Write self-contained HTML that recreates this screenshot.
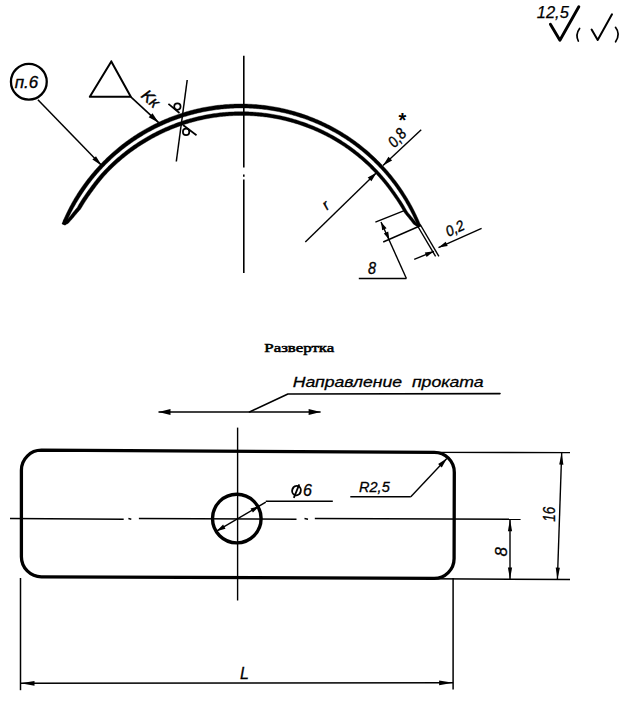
<!DOCTYPE html>
<html><head><meta charset="utf-8"><style>
html,body{margin:0;padding:0;background:#fff;}
svg{display:block;}
</style></head><body>
<svg width="633" height="712" viewBox="0 0 633 712" stroke="#000" fill="none">
<text x="552.8" y="18.0" font-family="Liberation Sans" font-style="italic" font-weight="normal" font-size="16.5" text-anchor="middle" fill="#000" stroke="#000" stroke-width="0.25" textLength="32" lengthAdjust="spacingAndGlyphs" >12,5</text>
<path d="M550.4,24.2 L559.9,40.3 L578.8,6.8" fill="none" stroke-width="2.9" stroke-linejoin="round" stroke-linecap="round" />
<path d="M579.6,28.5 Q575.2,34.5 578.3,41" fill="none" stroke-width="1.7" stroke-linecap="round"/>
<path d="M591.6,29.5 L597.7,40.0 L612.0,14.3" fill="none" stroke-width="2.0" stroke-linejoin="round" stroke-linecap="round" />
<path d="M615.5,27.3 Q620.8,34 615.6,41.8" fill="none" stroke-width="1.7" stroke-linecap="round"/>
<line x1="243.8" y1="55.8" x2="243.8" y2="167.4" stroke-width="1.6"/>
<line x1="243.8" y1="174.5" x2="243.8" y2="176.8" stroke-width="1.6"/>
<line x1="243.8" y1="179.6" x2="243.8" y2="273.0" stroke-width="1.6"/>
<path d="M62.00,223.75 L62.58,222.33 L63.18,220.92 L63.78,219.52 L64.40,218.12 L65.02,216.72 L65.66,215.33 L66.31,213.95 L66.97,212.57 L67.64,211.19 L68.32,209.82 L69.01,208.45 L69.71,207.09 L70.43,205.74 L71.15,204.39 L71.88,203.05 L72.63,201.71 L73.39,200.38 L74.17,199.06 L74.95,197.75 L75.75,196.44 L76.56,195.14 L77.37,193.85 L78.20,192.56 L79.04,191.28 L79.89,190.00 L80.74,188.73 L81.61,187.47 L82.49,186.22 L83.38,184.97 L84.27,183.73 L85.18,182.50 L86.10,181.27 L87.02,180.05 L87.96,178.84 L88.90,177.64 L89.86,176.44 L90.82,175.25 L91.80,174.07 L92.78,172.89 L93.77,171.73 L94.77,170.57 L95.78,169.42 L96.80,168.28 L97.83,167.14 L98.87,166.02 L99.92,164.90 L100.97,163.79 L102.03,162.69 L103.11,161.59 L104.19,160.51 L105.28,159.43 L106.38,158.37 L107.48,157.31 L108.60,156.26 L109.72,155.22 L110.85,154.18 L111.99,153.16 L113.14,152.15 L114.29,151.14 L115.46,150.14 L116.63,149.16 L117.80,148.18 L118.99,147.21 L120.19,146.25 L121.39,145.30 L122.60,144.36 L123.81,143.43 L125.04,142.51 L126.27,141.60 L127.50,140.70 L128.75,139.81 L130.00,138.93 L131.26,138.05 L132.53,137.19 L133.80,136.34 L135.08,135.50 L136.36,134.67 L137.66,133.84 L138.96,133.03 L140.26,132.23 L141.57,131.44 L142.89,130.66 L144.21,129.89 L145.54,129.13 L146.88,128.38 L148.22,127.64 L149.57,126.91 L150.92,126.20 L152.28,125.49 L153.65,124.79 L155.02,124.11 L156.39,123.43 L157.77,122.77 L159.16,122.12 L160.55,121.48 L161.94,120.85 L163.34,120.23 L164.75,119.62 L166.16,119.02 L167.58,118.43 L169.00,117.86 L170.42,117.29 L171.85,116.74 L173.28,116.20 L174.72,115.67 L176.16,115.15 L177.60,114.64 L179.05,114.15 L180.51,113.66 L181.96,113.19 L183.43,112.73 L184.89,112.28 L186.36,111.84 L187.83,111.41 L189.30,111.00 L190.78,110.59 L192.26,110.20 L193.75,109.82 L195.23,109.45 L196.72,109.09 L198.21,108.75 L199.71,108.42 L201.21,108.09 L202.71,107.78 L204.21,107.49 L205.72,107.20 L207.22,106.93 L208.73,106.67 L210.25,106.42 L211.76,106.19 L213.28,105.96 L214.79,105.75 L216.31,105.55 L217.83,105.37 L219.35,105.19 L220.88,105.03 L222.40,104.88 L223.93,104.74 L225.45,104.61 L226.98,104.50 L228.51,104.40 L230.04,104.31 L231.57,104.23 L233.10,104.16 L234.63,104.11 L236.16,104.07 L237.69,104.04 L239.22,104.02 L240.76,104.01 L242.29,104.02 L243.82,104.04 L245.35,104.07 L246.88,104.11 L248.41,104.16 L249.94,104.23 L251.47,104.31 L253.00,104.40 L254.53,104.50 L256.05,104.62 L257.58,104.74 L259.11,104.88 L260.63,105.03 L262.15,105.20 L263.67,105.37 L265.19,105.56 L266.71,105.76 L268.23,105.97 L269.74,106.19 L271.26,106.42 L272.77,106.67 L274.28,106.93 L275.78,107.20 L277.29,107.48 L278.79,107.77 L280.29,108.08 L281.79,108.40 L283.28,108.73 L284.78,109.07 L286.27,109.42 L287.75,109.79 L289.24,110.16 L290.72,110.55 L292.19,110.95 L293.67,111.36 L295.14,111.78 L296.61,112.22 L298.07,112.67 L299.53,113.12 L300.99,113.59 L302.44,114.07 L303.89,114.56 L305.34,115.07 L306.78,115.58 L308.22,116.11 L309.65,116.65 L311.08,117.19 L312.50,117.75 L313.92,118.33 L315.34,118.91 L316.75,119.50 L318.16,120.11 L319.56,120.72 L320.95,121.35 L322.34,121.99 L323.73,122.63 L325.11,123.29 L326.49,123.96 L327.86,124.64 L329.22,125.34 L330.58,126.04 L331.94,126.75 L333.28,127.48 L334.63,128.21 L335.96,128.96 L337.29,129.71 L338.62,130.48 L339.94,131.25 L341.25,132.04 L342.56,132.84 L343.86,133.64 L345.15,134.46 L346.44,135.29 L347.72,136.12 L348.99,136.97 L350.26,137.83 L351.52,138.70 L352.77,139.57 L354.02,140.46 L355.26,141.36 L356.49,142.27 L357.71,143.18 L358.93,144.11 L360.14,145.04 L361.35,145.99 L362.54,146.94 L363.73,147.91 L364.91,148.88 L366.08,149.86 L367.25,150.85 L368.40,151.85 L369.55,152.86 L370.69,153.88 L371.83,154.91 L372.95,155.95 L374.07,156.99 L375.17,158.05 L376.27,159.11 L377.37,160.18 L378.45,161.26 L379.52,162.35 L380.59,163.45 L381.65,164.55 L382.69,165.67 L383.73,166.79 L384.76,167.92 L385.79,169.06 L386.80,170.20 L387.80,171.36 L388.80,172.52 L389.78,173.69 L390.76,174.87 L391.72,176.05 L392.68,177.24 L393.63,178.44 L394.57,179.65 L395.50,180.87 L396.41,182.09 L397.32,183.32 L398.22,184.55 L399.11,185.80 L399.99,187.05 L400.86,188.31 L401.72,189.57 L402.57,190.84 L403.41,192.12 L404.24,193.40 L405.06,194.69 L405.87,195.99 L406.67,197.29 L407.46,198.60 L408.24,199.92 L409.01,201.24 L409.77,202.57 L410.51,203.90 L411.25,205.24 L411.98,206.59 L412.69,207.94 L413.40,209.29 L414.09,210.66 L414.77,212.02 L415.45,213.40 L416.11,214.78 L416.76,216.16 L417.40,217.55 L418.03,218.94 L418.65,220.34 L419.25,221.74 L419.85,223.15 L420.43,224.56 L421.01,225.98 L418.04,227.17 L417.47,225.78 L416.89,224.39 L416.30,223.01 L415.70,221.63 L415.09,220.26 L414.46,218.89 L413.83,217.53 L413.19,216.17 L412.53,214.82 L411.87,213.47 L411.19,212.13 L410.50,210.79 L409.81,209.46 L409.10,208.13 L408.38,206.81 L407.65,205.50 L406.91,204.19 L406.16,202.88 L405.41,201.59 L404.64,200.30 L403.86,199.01 L403.07,197.73 L402.27,196.46 L401.46,195.19 L400.64,193.94 L399.81,192.68 L398.97,191.44 L398.12,190.20 L397.26,188.96 L396.39,187.74 L395.51,186.52 L394.62,185.30 L393.73,184.10 L392.82,182.90 L391.90,181.71 L390.98,180.53 L390.04,179.35 L389.10,178.18 L388.15,177.02 L387.18,175.87 L386.21,174.72 L385.23,173.58 L384.24,172.45 L383.24,171.33 L382.24,170.21 L381.22,169.11 L380.20,168.01 L379.16,166.92 L378.12,165.83 L377.07,164.76 L376.01,163.69 L374.95,162.64 L373.87,161.59 L372.79,160.55 L371.70,159.51 L370.60,158.49 L369.49,157.48 L368.37,156.47 L367.25,155.47 L366.12,154.48 L364.98,153.50 L363.83,152.53 L362.68,151.57 L361.51,150.62 L360.35,149.68 L359.17,148.75 L357.98,147.82 L356.79,146.91 L355.60,146.00 L354.39,145.10 L353.18,144.22 L351.96,143.34 L350.73,142.47 L349.50,141.62 L348.26,140.77 L347.01,139.93 L345.76,139.10 L344.50,138.29 L343.23,137.48 L341.96,136.68 L340.68,135.89 L339.40,135.11 L338.11,134.35 L336.81,133.59 L335.51,132.84 L334.20,132.10 L332.89,131.38 L331.57,130.66 L330.24,129.96 L328.91,129.26 L327.57,128.58 L326.23,127.90 L324.88,127.24 L323.53,126.59 L322.17,125.95 L320.81,125.31 L319.44,124.69 L318.07,124.08 L316.69,123.49 L315.31,122.90 L313.93,122.32 L312.54,121.76 L311.14,121.20 L309.74,120.66 L308.34,120.12 L306.93,119.60 L305.52,119.09 L304.10,118.59 L302.68,118.10 L301.26,117.63 L299.83,117.16 L298.40,116.70 L296.97,116.26 L295.53,115.83 L294.09,115.41 L292.65,115.00 L291.20,114.60 L289.75,114.21 L288.30,113.84 L286.84,113.48 L285.38,113.12 L283.92,112.78 L282.45,112.45 L280.99,112.14 L279.52,111.83 L278.05,111.54 L276.57,111.25 L275.10,110.98 L273.62,110.72 L272.14,110.48 L270.66,110.24 L269.17,110.02 L267.69,109.80 L266.20,109.60 L264.71,109.41 L263.22,109.24 L261.73,109.07 L260.24,108.92 L258.74,108.77 L257.25,108.64 L255.75,108.52 L254.26,108.42 L252.76,108.32 L251.26,108.24 L249.76,108.17 L248.26,108.11 L246.76,108.06 L245.26,108.03 L243.76,108.00 L242.26,107.99 L240.76,107.99 L239.26,108.00 L237.76,108.02 L236.26,108.06 L234.76,108.10 L233.26,108.16 L231.77,108.23 L230.27,108.32 L228.77,108.41 L227.27,108.52 L225.78,108.63 L224.28,108.76 L222.79,108.90 L221.30,109.06 L219.81,109.22 L218.32,109.40 L216.83,109.59 L215.34,109.79 L213.86,110.00 L212.38,110.22 L210.89,110.46 L209.42,110.70 L207.94,110.96 L206.46,111.23 L204.99,111.51 L203.52,111.79 L202.05,112.10 L200.58,112.41 L199.12,112.73 L197.65,113.07 L196.19,113.41 L194.74,113.77 L193.28,114.14 L191.83,114.52 L190.39,114.92 L188.94,115.32 L187.50,115.74 L186.06,116.16 L184.63,116.60 L183.20,117.05 L181.77,117.51 L180.35,117.98 L178.93,118.47 L177.51,118.96 L176.10,119.47 L174.69,119.98 L173.29,120.51 L171.89,121.05 L170.49,121.60 L169.10,122.16 L167.71,122.73 L166.33,123.32 L164.95,123.91 L163.58,124.51 L162.21,125.13 L160.85,125.75 L159.49,126.39 L158.14,127.04 L156.79,127.70 L155.45,128.37 L154.11,129.05 L152.78,129.73 L151.45,130.44 L150.13,131.15 L148.81,131.87 L147.50,132.60 L146.20,133.34 L144.90,134.09 L143.61,134.85 L142.32,135.63 L141.04,136.41 L139.77,137.20 L138.50,138.01 L137.24,138.82 L135.99,139.64 L134.74,140.47 L133.50,141.31 L132.26,142.17 L131.03,143.03 L129.81,143.90 L128.60,144.78 L127.39,145.67 L126.19,146.57 L125.00,147.48 L123.81,148.40 L122.63,149.33 L121.46,150.27 L120.30,151.21 L119.14,152.17 L117.99,153.13 L116.85,154.11 L115.71,155.09 L114.59,156.08 L113.47,157.08 L112.36,158.09 L111.26,159.11 L110.16,160.14 L109.08,161.17 L108.00,162.22 L106.93,163.27 L105.87,164.33 L104.82,165.40 L103.77,166.48 L102.74,167.56 L101.71,168.66 L100.69,169.76 L99.68,170.87 L98.68,171.99 L97.69,173.11 L96.70,174.25 L95.73,175.39 L94.76,176.54 L93.81,177.69 L92.86,178.86 L91.92,180.03 L90.99,181.21 L90.07,182.39 L89.16,183.59 L88.26,184.79 L87.37,185.99 L86.49,187.21 L85.62,188.43 L84.76,189.66 L83.90,190.89 L83.06,192.13 L82.23,193.38 L81.40,194.64 L80.59,195.90 L79.79,197.17 L78.99,198.44 L78.21,199.72 L77.44,201.01 L76.67,202.30 L75.92,203.60 L75.16,204.90 L74.42,206.20 L73.69,207.51 L72.97,208.83 L72.26,210.15 L71.56,211.48 L70.87,212.81 L70.19,214.15 L69.52,215.50 L68.86,216.85 L68.21,218.20 L67.57,219.56 L66.95,220.93 L66.33,222.30 L65.73,223.67 L65.14,225.05 Z" fill="#000" stroke="#000" stroke-width="0.4" stroke-linejoin="round"/>
<path d="M62.09,223.79 L63.82,222.86 L65.37,221.88 L66.39,220.68 L67.41,219.49 L68.44,218.31 L69.44,217.12 L70.36,215.90 L71.30,214.70 L72.24,213.50 L73.19,212.31 L74.14,211.14 L75.11,209.97 L76.08,208.81 L77.07,207.66 L77.84,206.40 L78.57,205.12 L79.33,203.85 L80.10,202.59 L80.88,201.34 L81.67,200.09 L82.47,198.85 L83.28,197.62 L84.10,196.39 L84.93,195.17 L85.77,193.96 L86.62,192.75 L87.48,191.55 L88.35,190.36 L89.22,189.17 L90.10,187.99 L90.96,186.79 L91.83,185.60 L92.71,184.42 L93.60,183.24 L94.50,182.07 L95.41,180.91 L96.33,179.76 L97.26,178.61 L98.19,177.47 L99.14,176.34 L100.09,175.21 L101.06,174.10 L102.03,172.99 L103.03,171.90 L104.04,170.83 L105.06,169.76 L106.09,168.70 L107.12,167.65 L108.17,166.60 L109.22,165.57 L110.28,164.54 L111.34,163.52 L112.42,162.52 L113.50,161.51 L114.59,160.52 L115.69,159.54 L116.80,158.56 L117.91,157.60 L119.03,156.64 L120.16,155.69 L121.30,154.75 L122.44,153.82 L123.59,152.90 L124.75,151.99 L125.91,151.09 L127.08,150.19 L128.26,149.31 L129.45,148.43 L130.64,147.57 L131.84,146.71 L133.04,145.87 L134.26,145.03 L135.47,144.20 L136.70,143.38 L137.93,142.58 L139.17,141.78 L140.41,140.99 L141.66,140.21 L142.92,139.44 L144.18,138.69 L145.45,137.94 L146.72,137.20 L148.00,136.47 L149.28,135.74 L150.56,135.02 L151.85,134.32 L153.15,133.62 L154.45,132.93 L155.76,132.26 L157.07,131.59 L158.39,130.93 L159.71,130.29 L161.04,129.65 L162.37,129.03 L163.71,128.42 L165.05,127.81 L166.40,127.22 L167.75,126.64 L169.11,126.07 L170.47,125.50 L171.83,124.95 L173.20,124.42 L174.57,123.89 L175.95,123.37 L177.33,122.86 L178.72,122.37 L180.11,121.88 L181.50,121.41 L182.90,120.95 L184.30,120.49 L185.70,120.05 L187.11,119.62 L188.52,119.20 L189.93,118.80 L191.35,118.40 L192.77,118.02 L194.19,117.64 L195.62,117.28 L197.05,116.93 L198.48,116.59 L199.91,116.26 L201.35,115.94 L202.79,115.63 L204.23,115.34 L205.67,115.06 L207.12,114.78 L208.57,114.52 L210.02,114.28 L211.47,114.04 L212.93,113.82 L214.38,113.60 L215.84,113.40 L217.30,113.21 L218.76,113.04 L220.22,112.87 L221.68,112.71 L223.15,112.57 L224.61,112.44 L226.08,112.32 L227.54,112.21 L229.01,112.11 L230.48,112.03 L231.95,111.95 L233.42,111.89 L234.89,111.84 L236.36,111.80 L237.83,111.77 L239.30,111.75 L240.77,111.75 L242.24,111.75 L243.71,111.76 L245.18,111.78 L246.65,111.82 L248.12,111.87 L249.59,111.92 L251.06,111.99 L252.53,112.07 L254.00,112.16 L255.46,112.27 L256.93,112.38 L258.40,112.51 L259.86,112.65 L261.32,112.80 L262.78,112.96 L264.25,113.13 L265.71,113.32 L267.16,113.52 L268.62,113.72 L270.07,113.94 L271.53,114.17 L272.98,114.42 L274.43,114.67 L275.87,114.93 L277.32,115.21 L278.76,115.50 L280.20,115.80 L281.64,116.11 L283.08,116.43 L284.51,116.76 L285.94,117.11 L287.37,117.46 L288.79,117.83 L290.22,118.21 L291.64,118.60 L293.05,119.00 L294.46,119.41 L295.87,119.83 L297.28,120.27 L298.68,120.71 L300.08,121.17 L301.48,121.63 L302.87,122.11 L304.26,122.60 L305.64,123.10 L307.02,123.61 L308.40,124.13 L309.77,124.67 L311.14,125.21 L312.50,125.76 L313.86,126.33 L315.22,126.90 L316.57,127.49 L317.91,128.09 L319.25,128.69 L320.59,129.31 L321.92,129.94 L323.25,130.58 L324.57,131.23 L325.88,131.89 L327.19,132.56 L328.50,133.24 L329.80,133.93 L331.10,134.63 L332.38,135.34 L333.67,136.07 L334.95,136.80 L336.22,137.54 L337.48,138.29 L338.74,139.06 L340.00,139.83 L341.24,140.61 L342.48,141.41 L343.72,142.21 L344.95,143.02 L346.17,143.84 L347.38,144.68 L348.59,145.52 L349.79,146.37 L350.99,147.23 L352.18,148.10 L353.36,148.98 L354.53,149.87 L355.70,150.76 L356.86,151.67 L358.01,152.59 L359.16,153.51 L360.30,154.45 L361.43,155.39 L362.55,156.34 L363.67,157.30 L364.78,158.27 L365.88,159.25 L366.97,160.24 L368.05,161.23 L369.13,162.24 L370.20,163.25 L371.26,164.27 L372.32,165.30 L373.36,166.34 L374.40,167.38 L375.43,168.44 L376.45,169.50 L377.46,170.57 L378.46,171.65 L379.46,172.73 L380.44,173.83 L381.42,174.93 L382.39,176.04 L383.35,177.16 L384.30,178.28 L385.25,179.41 L386.18,180.55 L387.10,181.70 L388.02,182.85 L388.93,184.01 L389.82,185.18 L390.71,186.36 L391.59,187.54 L392.46,188.73 L393.32,189.92 L394.17,191.13 L395.01,192.33 L395.84,193.55 L396.70,194.75 L397.54,195.96 L398.38,197.18 L399.20,198.40 L400.02,199.63 L400.82,200.86 L401.62,202.11 L402.40,203.35 L403.18,204.61 L403.95,205.87 L404.71,207.14 L405.45,208.41 L406.19,209.69 L406.92,210.98 L407.74,212.22 L408.72,213.38 L409.69,214.55 L410.65,215.73 L411.61,216.92 L412.55,218.12 L413.49,219.34 L414.42,220.56 L415.34,221.79 L416.32,223.00 L417.85,223.99 L419.39,224.99 L420.91,226.01 L418.13,227.13 L416.61,226.13 L415.08,225.15 L413.55,224.19 L412.58,223.00 L411.66,221.80 L410.74,220.60 L409.81,219.41 L408.87,218.23 L407.92,217.06 L406.96,215.90 L406.00,214.76 L405.03,213.62 L404.21,212.40 L403.49,211.14 L402.76,209.89 L402.02,208.64 L401.27,207.39 L400.51,206.15 L399.74,204.92 L398.96,203.70 L398.18,202.48 L397.38,201.26 L396.57,200.06 L395.76,198.86 L394.93,197.67 L394.10,196.48 L393.25,195.30 L392.43,194.11 L391.60,192.92 L390.76,191.74 L389.91,190.57 L389.05,189.41 L388.19,188.25 L387.31,187.09 L386.42,185.95 L385.53,184.81 L384.62,183.68 L383.71,182.55 L382.79,181.44 L381.86,180.33 L380.92,179.23 L379.97,178.13 L379.02,177.04 L378.05,175.97 L377.08,174.89 L376.10,173.83 L375.11,172.77 L374.11,171.73 L373.10,170.68 L372.09,169.65 L371.07,168.63 L370.04,167.61 L369.00,166.60 L367.95,165.60 L366.90,164.61 L365.84,163.63 L364.77,162.65 L363.69,161.69 L362.60,160.73 L361.51,159.78 L360.41,158.84 L359.31,157.91 L358.19,156.99 L357.07,156.07 L355.94,155.17 L354.81,154.27 L353.66,153.38 L352.51,152.51 L351.36,151.64 L350.19,150.78 L349.02,149.93 L347.85,149.09 L346.66,148.25 L345.48,147.43 L344.28,146.62 L343.08,145.81 L341.87,145.02 L340.65,144.24 L339.43,143.46 L338.21,142.70 L336.97,141.94 L335.73,141.19 L334.49,140.46 L333.24,139.74 L331.98,139.02 L330.72,138.32 L329.45,137.62 L328.18,136.94 L326.90,136.26 L325.62,135.60 L324.33,134.95 L323.03,134.30 L321.73,133.67 L320.43,133.05 L319.12,132.43 L317.81,131.83 L316.49,131.24 L315.17,130.66 L313.84,130.09 L312.51,129.52 L311.17,128.97 L309.83,128.43 L308.49,127.91 L307.14,127.39 L305.79,126.88 L304.43,126.38 L303.07,125.90 L301.71,125.42 L300.34,124.96 L298.97,124.50 L297.60,124.06 L296.22,123.63 L294.84,123.21 L293.45,122.79 L292.07,122.40 L290.68,122.01 L289.28,121.63 L287.89,121.26 L286.49,120.91 L285.09,120.56 L283.68,120.23 L282.27,119.91 L280.86,119.60 L279.45,119.30 L278.04,119.01 L276.62,118.73 L275.21,118.46 L273.79,118.21 L272.36,117.96 L270.94,117.73 L269.51,117.51 L268.09,117.30 L266.66,117.10 L265.23,116.91 L263.80,116.74 L262.36,116.57 L260.93,116.42 L259.49,116.27 L258.06,116.14 L256.62,116.02 L255.18,115.91 L253.74,115.82 L252.30,115.73 L250.86,115.66 L249.42,115.59 L247.98,115.54 L246.54,115.50 L245.10,115.47 L243.66,115.45 L242.22,115.45 L240.78,115.45 L239.33,115.46 L237.89,115.48 L236.45,115.51 L235.01,115.55 L233.57,115.61 L232.13,115.67 L230.69,115.75 L229.25,115.84 L227.81,115.94 L226.38,116.05 L224.94,116.17 L223.51,116.31 L222.07,116.45 L220.64,116.61 L219.21,116.78 L217.78,116.96 L216.35,117.15 L214.92,117.35 L213.50,117.56 L212.07,117.78 L210.65,118.02 L209.23,118.27 L207.81,118.52 L206.40,118.79 L204.98,119.06 L203.57,119.35 L202.16,119.65 L200.75,119.96 L199.35,120.29 L197.95,120.62 L196.55,120.96 L195.15,121.32 L193.75,121.69 L192.36,122.06 L190.98,122.45 L189.59,122.85 L188.21,123.26 L186.83,123.68 L185.45,124.11 L184.08,124.56 L182.71,125.01 L181.35,125.47 L179.99,125.95 L178.63,126.43 L177.28,126.93 L175.93,127.44 L174.58,127.96 L173.24,128.48 L171.90,129.02 L170.57,129.57 L169.24,130.13 L167.92,130.70 L166.60,131.28 L165.28,131.87 L163.97,132.48 L162.67,133.09 L161.37,133.71 L160.07,134.34 L158.78,134.98 L157.50,135.64 L156.22,136.30 L154.94,136.97 L153.67,137.65 L152.41,138.35 L151.15,139.05 L149.89,139.76 L148.64,140.48 L147.39,141.20 L146.15,141.93 L144.92,142.68 L143.69,143.43 L142.46,144.19 L141.24,144.96 L140.03,145.74 L138.82,146.54 L137.62,147.34 L136.43,148.15 L135.24,148.97 L134.06,149.79 L132.89,150.63 L131.72,151.48 L130.56,152.34 L129.40,153.20 L128.25,154.08 L127.11,154.96 L125.98,155.86 L124.85,156.76 L123.73,157.67 L122.62,158.59 L121.51,159.52 L120.41,160.46 L119.32,161.40 L118.24,162.36 L117.16,163.32 L116.09,164.29 L115.03,165.27 L113.98,166.26 L112.93,167.26 L111.89,168.27 L110.86,169.28 L109.84,170.30 L108.83,171.33 L107.82,172.37 L106.82,173.41 L105.84,174.47 L104.85,175.53 L103.90,176.62 L102.96,177.71 L102.02,178.82 L101.10,179.92 L100.18,181.04 L99.27,182.17 L98.37,183.30 L97.48,184.43 L96.60,185.58 L95.73,186.73 L94.86,187.89 L94.01,189.06 L93.17,190.23 L92.31,191.39 L91.45,192.55 L90.60,193.72 L89.76,194.89 L88.93,196.08 L88.10,197.26 L87.29,198.46 L86.49,199.66 L85.69,200.87 L84.91,202.08 L84.13,203.31 L83.37,204.53 L82.61,205.77 L81.86,207.00 L81.10,208.24 L80.31,209.46 L79.31,210.56 L78.32,211.67 L77.33,212.80 L76.36,213.94 L75.38,215.08 L74.42,216.24 L73.47,217.40 L72.52,218.58 L71.50,219.73 L70.45,220.87 L69.40,222.02 L68.36,223.18 L66.78,224.12 L65.04,225.01 Z" fill="#000" stroke="#000" stroke-width="0.4" stroke-linejoin="round"/>
<circle cx="65.8" cy="221.3" r="2.6" fill="#000" stroke="none"/>
<line x1="417.0" y1="225.0" x2="435.6" y2="256.4" stroke-width="1.4"/>
<line x1="420.2" y1="224.5" x2="438.9" y2="256.4" stroke-width="1.4"/>
<circle cx="28.85" cy="81.75" r="17.9" fill="none" stroke-width="2.3"/>
<text x="26.5" y="88.0" font-family="Liberation Sans" font-style="italic" font-weight="normal" font-size="17" text-anchor="middle" fill="#000" stroke="#000" stroke-width="0.35" >п.6</text>
<line x1="37.9" y1="99.8" x2="101.9" y2="165.8" stroke-width="1.5"/>
<path d="M101.9,165.8 L92.4,159.6 L96.0,156.2 Z" stroke="none" fill="#000"/>
<path d="M111.3,61.4 L89.8,96.8 L130.8,96.8 L111.3,61.4" fill="none" stroke-width="2.0" stroke-linejoin="round" stroke-linecap="round" />
<line x1="130.8" y1="96.8" x2="158.7" y2="122.7" stroke-width="1.6"/>
<path d="M158.7,122.7 L148.7,117.3 L152.5,113.2 Z" stroke="none" fill="#000"/>
<text x="147.0" y="102.8" font-family="Liberation Sans" font-style="italic" font-weight="normal" font-size="16" text-anchor="middle" fill="#000" stroke="#000" stroke-width="0.45" transform="rotate(42 147.0 102.8)" >Kк</text>
<line x1="187.2" y1="80.0" x2="176.3" y2="161.5" stroke-width="1.5"/>
<circle cx="177.4" cy="106.6" r="3.2" fill="none" stroke-width="1.7"/>
<line x1="168.4" y1="103.9" x2="179.5" y2="113.0" stroke-width="1.7"/>
<circle cx="186.1" cy="131.9" r="3.2" fill="none" stroke-width="1.7"/>
<line x1="183.0" y1="125.0" x2="196.5" y2="135.3" stroke-width="1.7"/>
<line x1="421.2" y1="129.7" x2="383.0" y2="165.4" stroke-width="1.4"/>
<path d="M383.0,165.4 L388.5,156.7 L392.1,160.5 Z" stroke="none" fill="#000"/>
<text x="401.0" y="141.5" font-family="Liberation Sans" font-style="italic" font-weight="normal" font-size="16" text-anchor="middle" fill="#000" stroke="#000" stroke-width="0.35" textLength="19" lengthAdjust="spacingAndGlyphs" transform="rotate(-48 401.0 141.5)" >0,8</text>
<text x="402.5" y="127.0" font-family="Liberation Sans" font-style="normal" font-weight="bold" font-size="20" text-anchor="middle" fill="#000" stroke="none" >*</text>
<line x1="305.3" y1="242.0" x2="376.7" y2="172.4" stroke-width="1.4"/>
<path d="M376.7,172.4 L371.4,181.2 L367.7,177.5 Z" stroke="none" fill="#000"/>
<text x="329.0" y="209.0" font-family="Liberation Sans" font-style="italic" font-weight="normal" font-size="15" text-anchor="middle" fill="#000" stroke="#000" stroke-width="0.35" transform="rotate(-40 329.0 209.0)" >r</text>
<line x1="375.4" y1="222.1" x2="404.2" y2="210.6" stroke-width="1.4"/>
<line x1="383.2" y1="242.0" x2="418.6" y2="226.5" stroke-width="1.4"/>
<line x1="381.0" y1="222.0" x2="406.4" y2="278.5" stroke-width="1.4"/>
<path d="M381.0,222.0 L386.6,228.2 L382.2,230.3 Z" stroke="none" fill="#000"/>
<path d="M389.4,239.8 L383.8,233.6 L388.2,231.5 Z" stroke="none" fill="#000"/>
<line x1="358.8" y1="278.5" x2="406.4" y2="278.5" stroke-width="1.4"/>
<text x="372.0" y="273.5" font-family="Liberation Sans" font-style="italic" font-weight="normal" font-size="16" text-anchor="middle" fill="#000" stroke="#000" stroke-width="0.35" textLength="8" lengthAdjust="spacingAndGlyphs" >8</text>
<line x1="414.2" y1="259.3" x2="434.0" y2="251.3" stroke-width="1.4"/>
<path d="M434.0,251.3 L426.6,256.9 L424.8,252.4 Z" stroke="none" fill="#000"/>
<line x1="438.5" y1="247.6" x2="481.6" y2="228.3" stroke-width="1.4"/>
<path d="M438.5,247.6 L445.7,241.7 L447.7,246.1 Z" stroke="none" fill="#000"/>
<text x="457.0" y="233.0" font-family="Liberation Sans" font-style="italic" font-weight="normal" font-size="15" text-anchor="middle" fill="#000" stroke="#000" stroke-width="0.35" textLength="19" lengthAdjust="spacingAndGlyphs" transform="rotate(-25 457.0 233.0)" >0,2</text>
<text x="299.3" y="352.3" font-family="Liberation Serif" font-style="normal" font-weight="normal" font-size="13.5" text-anchor="middle" fill="#000" stroke="#000" stroke-width="0.55" textLength="70" lengthAdjust="spacingAndGlyphs" >Развертка</text>
<line x1="158.5" y1="412.0" x2="320.6" y2="412.0" stroke-width="1.7"/>
<path d="M158.5,412.0 L170.5,409.0 L170.5,415.0 Z" stroke="none" fill="#000"/>
<path d="M320.6,412.0 L308.6,415.0 L308.6,409.0 Z" stroke="none" fill="#000"/>
<path d="M249.5,412.0 L287.9,394.0 L500.0,393.6" fill="none" stroke-width="1.6" stroke-linejoin="round" stroke-linecap="round" />
<text x="388.2" y="387.3" font-family="Liberation Sans" font-style="italic" font-weight="normal" font-size="15" text-anchor="middle" fill="#000" stroke="#000" stroke-width="0.3" textLength="191" lengthAdjust="spacingAndGlyphs" >Направление&#160;&#160;проката</text>
<path d="M41.4,450.2 L434.3,452.3 A20,20 0 0 1 454.3,472.3 L454.1,558.4 A20,20 0 0 1 434.1,578.4 L41.4,576.8 A20,20 0 0 1 21.4,556.8 L21.4,470.2 A20,20 0 0 1 41.4,450.2 Z" fill="none" stroke-width="3.3"/>
<line x1="10.0" y1="518.6" x2="123.7" y2="519.2" stroke-width="1.5"/>
<line x1="128.4" y1="518.6" x2="131.3" y2="519.2" stroke-width="1.5"/>
<line x1="138.9" y1="518.6" x2="296.5" y2="519.2" stroke-width="1.5"/>
<line x1="304.5" y1="518.6" x2="308.0" y2="519.2" stroke-width="1.5"/>
<line x1="314.8" y1="518.6" x2="520.6" y2="519.2" stroke-width="1.5"/>
<line x1="237.6" y1="427.6" x2="237.6" y2="600.5" stroke-width="1.4"/>
<circle cx="236.8" cy="518.6" r="24.3" fill="none" stroke-width="3.4"/>
<line x1="216.5" y1="531.2" x2="265.8" y2="502.2" stroke-width="1.4"/>
<path d="M216.5,531.2 L223.1,524.6 L225.5,528.7 Z" stroke="none" fill="#000"/>
<path d="M259.5,506.0 L252.9,512.6 L250.5,508.5 Z" stroke="none" fill="#000"/>
<line x1="265.8" y1="501.3" x2="332.8" y2="501.3" stroke-width="1.6"/>
<ellipse cx="296.5" cy="490.6" rx="4.3" ry="4.7" fill="none" stroke-width="1.9" transform="rotate(20 296.5 490.6)"/>
<line x1="299.3" y1="484.3" x2="293.8" y2="497.8" stroke-width="1.8"/>
<text x="307.5" y="495.7" font-family="Liberation Sans" font-style="italic" font-weight="normal" font-size="16" text-anchor="middle" fill="#000" stroke="#000" stroke-width="0.3" >6</text>
<line x1="446.8" y1="458.5" x2="410.8" y2="496.8" stroke-width="1.4"/>
<path d="M446.8,458.5 L441.8,467.5 L438.1,464.1 Z" stroke="none" fill="#000"/>
<line x1="350.3" y1="496.8" x2="410.8" y2="496.8" stroke-width="1.5"/>
<text x="374.4" y="491.6" font-family="Liberation Sans" font-style="italic" font-weight="normal" font-size="14.5" text-anchor="middle" fill="#000" stroke="#000" stroke-width="0.3" >R2,5</text>
<line x1="436.0" y1="452.4" x2="570.0" y2="452.6" stroke-width="1.4"/>
<line x1="430.0" y1="578.8" x2="570.0" y2="579.6" stroke-width="1.5"/>
<line x1="561.7" y1="452.6" x2="557.4" y2="579.6" stroke-width="1.4"/>
<path d="M561.7,452.6 L563.4,464.7 L559.2,464.5 Z" stroke="none" fill="#000"/>
<path d="M557.4,579.6 L555.7,567.5 L559.9,567.7 Z" stroke="none" fill="#000"/>
<text x="555.0" y="514.3" font-family="Liberation Sans" font-style="italic" font-weight="normal" font-size="17" text-anchor="middle" fill="#000" stroke="#000" stroke-width="0.3" textLength="15" lengthAdjust="spacingAndGlyphs" transform="rotate(-90 555.0 514.3)" >16</text>
<line x1="510.0" y1="519.3" x2="510.0" y2="579.6" stroke-width="1.4"/>
<path d="M510.0,519.3 L512.1,531.3 L507.9,531.3 Z" stroke="none" fill="#000"/>
<path d="M510.0,579.6 L507.9,567.6 L512.1,567.6 Z" stroke="none" fill="#000"/>
<text x="507.5" y="551.7" font-family="Liberation Sans" font-style="italic" font-weight="normal" font-size="17" text-anchor="middle" fill="#000" stroke="#000" stroke-width="0.3" transform="rotate(-90 507.5 551.7)" >8</text>
<line x1="20.5" y1="578.0" x2="20.5" y2="690.2" stroke-width="1.5"/>
<line x1="453.1" y1="578.0" x2="453.1" y2="689.6" stroke-width="1.5"/>
<line x1="20.5" y1="683.3" x2="453.1" y2="682.8" stroke-width="1.6"/>
<path d="M20.5,683.3 L34.5,680.9 L34.5,685.7 Z" stroke="none" fill="#000"/>
<path d="M453.1,682.8 L439.1,685.2 L439.1,680.4 Z" stroke="none" fill="#000"/>
<text x="244.5" y="678.7" font-family="Liberation Sans" font-style="italic" font-weight="normal" font-size="16" text-anchor="middle" fill="#000" stroke="#000" stroke-width="0.3" >L</text>
</svg>
</body></html>
